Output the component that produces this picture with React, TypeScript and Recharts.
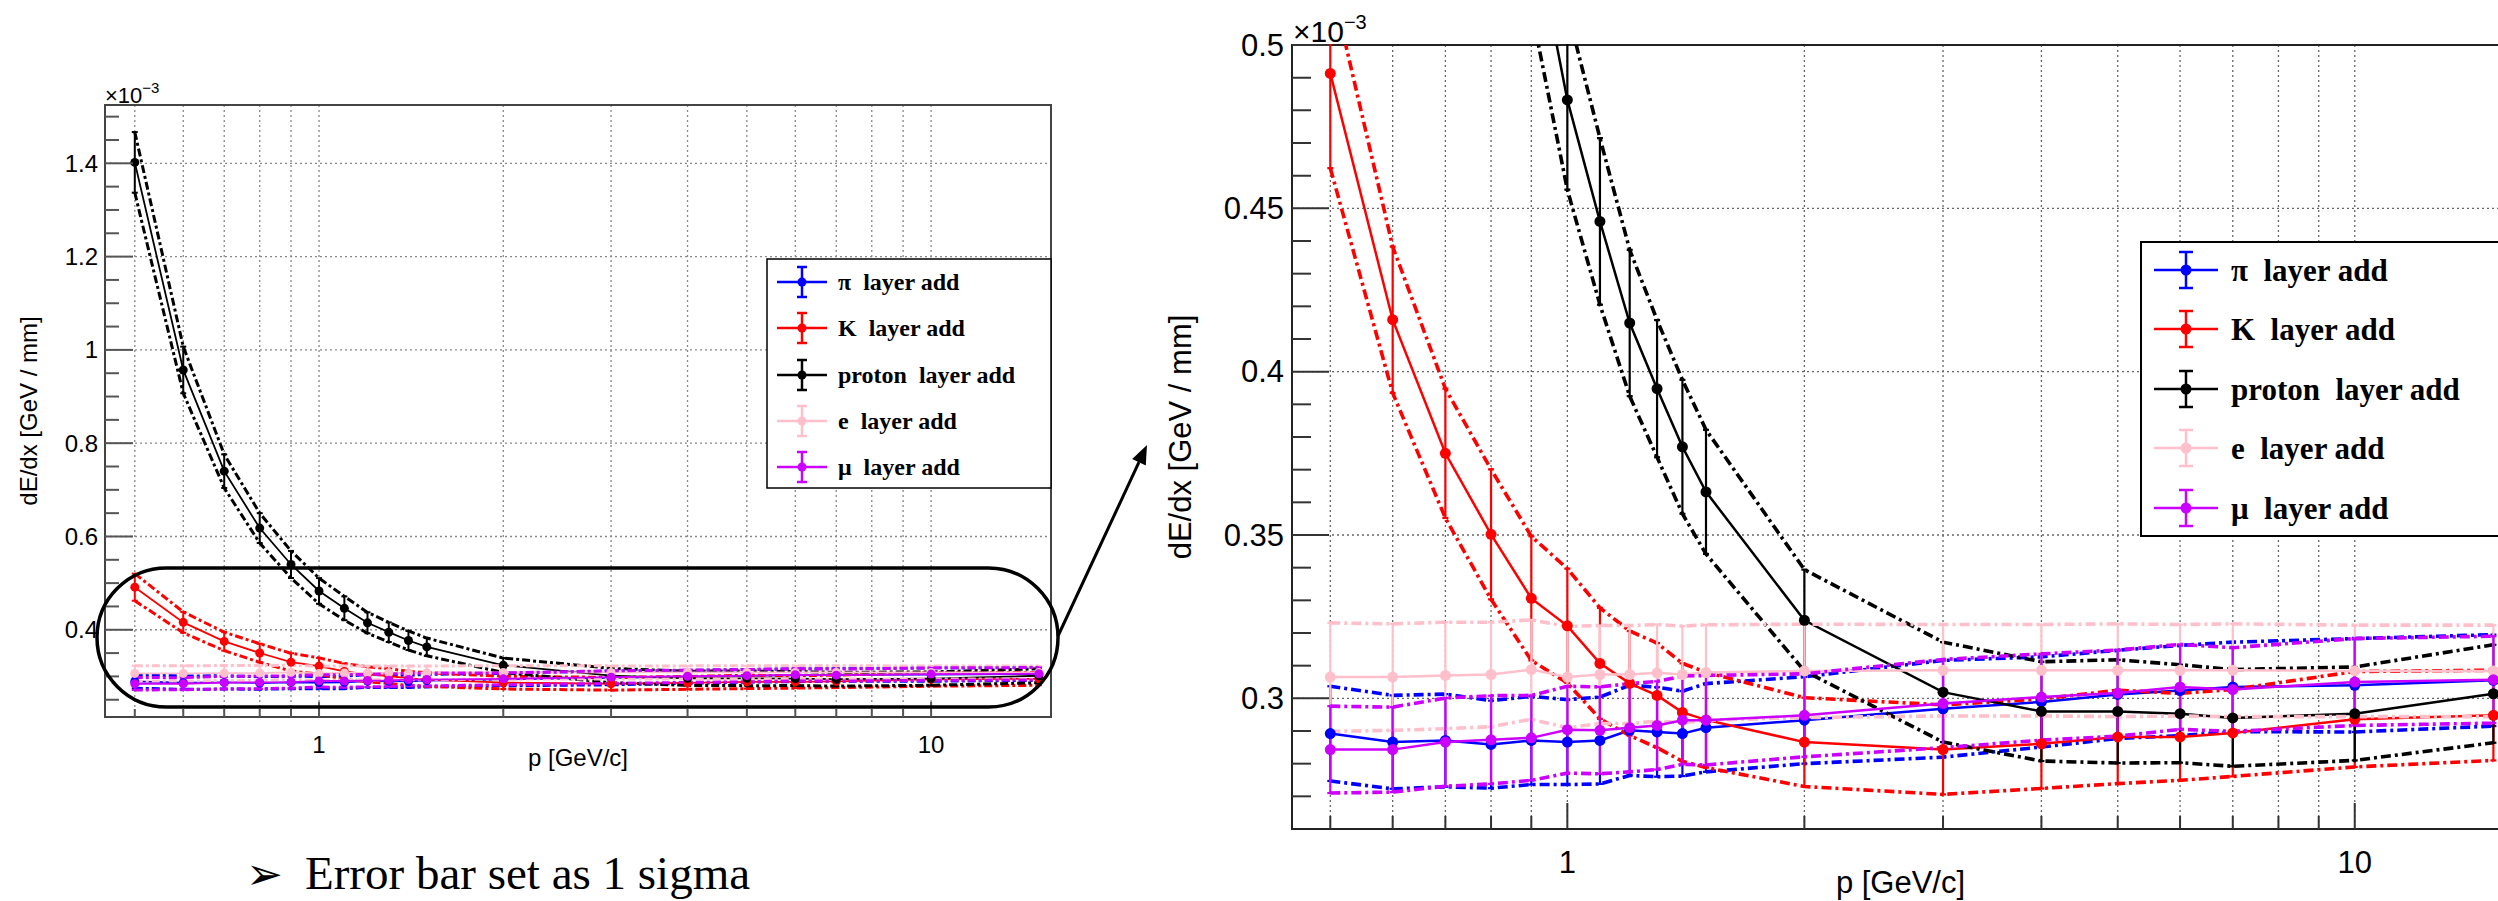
import React from 'react';
import { LineChart, Line, XAxis, YAxis, CartesianGrid, ErrorBar, ReferenceArea, Label } from 'recharts';

// ---------------- data ----------------
const momentum = [0.5, 0.6, 0.7, 0.8, 0.9, 1.0, 1.1, 1.2, 1.3, 1.4, 1.5, 2, 3, 4, 5, 6, 7, 10, 15];

const pionMean = [0.2892, 0.2866, 0.2871, 0.2859, 0.2871, 0.2866, 0.2871, 0.2902, 0.2897, 0.2892, 0.291, 0.2933, 0.2968, 0.2989, 0.3012, 0.3024, 0.3035, 0.304, 0.3055];
const pionSigma = [0.0145, 0.0143, 0.0142, 0.0134, 0.0135, 0.013, 0.0133, 0.0138, 0.0137, 0.013, 0.0135, 0.0133, 0.0148, 0.0138, 0.0135, 0.0138, 0.0137, 0.0143, 0.014];

const kaonMean = [0.4913, 0.4159, 0.375, 0.3502, 0.3306, 0.3222, 0.3107, 0.3046, 0.3009, 0.2957, 0.2934, 0.2866, 0.2843, 0.2861, 0.2882, 0.2882, 0.2894, 0.2936, 0.2948];
const kaonSigma = [0.029, 0.0224, 0.0198, 0.0199, 0.019, 0.0175, 0.017, 0.016, 0.016, 0.015, 0.0146, 0.0136, 0.0137, 0.0137, 0.0143, 0.0133, 0.0133, 0.0146, 0.0138];

const protonMean = [1.402, 0.957, 0.74, 0.618, 0.54, 0.4832, 0.446, 0.4149, 0.3948, 0.377, 0.3632, 0.3239, 0.3019, 0.296, 0.296, 0.2953, 0.294, 0.2953, 0.3014];
const protonSigma = [0.065, 0.05, 0.036, 0.032, 0.029, 0.0275, 0.0255, 0.0224, 0.021, 0.0205, 0.019, 0.0155, 0.0153, 0.0152, 0.0158, 0.015, 0.0148, 0.0143, 0.015];

const electronMean = [0.3065, 0.3065, 0.307, 0.3073, 0.3088, 0.3065, 0.3073, 0.3073, 0.3078, 0.3073, 0.3079, 0.3084, 0.3086, 0.3086, 0.3086, 0.3086, 0.3086, 0.3084, 0.3084];
const electronSigma = [0.0166, 0.0163, 0.0163, 0.016, 0.0152, 0.0155, 0.015, 0.015, 0.0148, 0.0148, 0.0146, 0.0143, 0.014, 0.014, 0.0142, 0.014, 0.0142, 0.014, 0.014];

const muonMean = [0.2843, 0.2843, 0.2866, 0.2873, 0.2879, 0.2904, 0.2902, 0.291, 0.2917, 0.2933, 0.2933, 0.2948, 0.2984, 0.3004, 0.3016, 0.3035, 0.3027, 0.305, 0.3057];
const muonSigma = [0.0133, 0.013, 0.0135, 0.0135, 0.013, 0.0133, 0.0133, 0.0135, 0.0135, 0.0135, 0.0137, 0.0127, 0.0135, 0.0132, 0.0132, 0.013, 0.0128, 0.0133, 0.0133];

const seriesInfo = [
  { key: 'pi', name: 'π  layer add', color: '#0000ff', mean: pionMean, sigma: pionSigma },
  { key: 'K', name: 'K  layer add', color: '#ff0000', mean: kaonMean, sigma: kaonSigma },
  { key: 'proton', name: 'proton  layer add', color: '#000000', mean: protonMean, sigma: protonSigma },
  { key: 'e', name: 'e  layer add', color: '#ffc0cb', mean: electronMean, sigma: electronSigma },
  { key: 'mu', name: 'μ  layer add', color: '#cc00ff', mean: muonMean, sigma: muonSigma },
];

// axis tick values
const xTicks = [0.5, 0.6, 0.7, 0.8, 0.9, 1, 2, 3, 4, 5, 6, 7, 8, 9, 10];
const xLabeled = [1, 10];

const leftYMajor = [0.4, 0.6, 0.8, 1, 1.2, 1.4];
const leftYTicks = [0.25, 0.3, 0.35, 0.4, 0.45, 0.5, 0.55, 0.6, 0.65, 0.7, 0.75, 0.8, 0.85, 0.9, 0.95, 1, 1.05, 1.1, 1.15, 1.2, 1.25, 1.3, 1.35, 1.4, 1.45, 1.5];
const rightYMajor = [0.3, 0.35, 0.4, 0.45, 0.5];
const rightYTicks = [0.27, 0.28, 0.29, 0.3, 0.31, 0.32, 0.33, 0.34, 0.35, 0.36, 0.37, 0.38, 0.39, 0.4, 0.41, 0.42, 0.43, 0.44, 0.45, 0.46, 0.47, 0.48, 0.49, 0.5];

const table = momentum.map((p, i) => {
  const row: Record<string, number> = { p };
  seriesInfo.forEach((s) => {
    row[s.key] = s.mean[i];
    row[s.key + 'Err'] = s.sigma[i];
    row[s.key + 'Hi'] = s.mean[i] + s.sigma[i];
    row[s.key + 'Lo'] = s.mean[i] - s.sigma[i];
  });
  return row;
});

const SANS = '"Liberation Sans", Arial, Helvetica, sans-serif';
const SERIF = '"Liberation Serif", "Times New Roman", serif';

type Cfg = {
  left: number; top: number; width: number; height: number;
  margin: { top: number; right: number; bottom: number; left: number };
  yAxisWidth: number; xAxisHeight: number;
  xDomain: [number, number]; yDomain: [number, number];
  yTicks: number[]; yMajor: number[];
  font: number; expFont: number; expSup: number; expRise: number; expDy: number; expInChart: boolean;
  yMajLen: number; yMinLen: number; xMajLen: number; xMinLen: number;
  yLabelGap: number; xLabelDy: number; xTitleDy: number; yTitleX: number;
  lineW: number; bandW: number; dotR: number; dash: string; errW: number; errCap: number;
  frameColor: string; gridColor: string; tickColor: string;
  clip?: string;
};

const isIn = (arr: number[], v: number) => arr.some((a) => Math.abs(a - v) < 1e-9);

function Exponent({ x, y, cfg }: { x: number; y: number; cfg: Cfg }) {
  return (
    <text x={x} y={y} fontSize={cfg.expFont} fontFamily={SANS} fill="#000">
      ×10
      <tspan dy={-cfg.expRise} fontSize={cfg.expSup}>−3</tspan>
    </text>
  );
}

function DedxPlot({ cfg }: { cfg: Cfg }) {
  const yTick = (props: any) => {
    const { x, y, payload } = props;
    const v = payload.value;
    const major = isIn(cfg.yMajor, v);
    return (
      <g>
        <line x1={x} x2={x + (major ? cfg.yMajLen : cfg.yMinLen)} y1={y} y2={y} stroke={cfg.tickColor} strokeWidth={2} />
        {major ? (
          <text x={x - cfg.yLabelGap} y={y} textAnchor="end" dominantBaseline="central" fontSize={cfg.font} fontFamily={SANS} fill="#000">
            {String(v)}
          </text>
        ) : null}
      </g>
    );
  };
  const xTick = (props: any) => {
    const { x, y, payload } = props;
    const v = payload.value;
    const major = isIn(xLabeled, v);
    return (
      <g>
        <line x1={x} x2={x} y1={y} y2={y - (major ? cfg.xMajLen : cfg.xMinLen)} stroke={cfg.tickColor} strokeWidth={2} />
        {major ? (
          <text x={x} y={y + cfg.xLabelDy} textAnchor="middle" fontSize={cfg.font} fontFamily={SANS} fill="#000">
            {String(v)}
          </text>
        ) : null}
      </g>
    );
  };
  const yTitle = (props: any) => {
    const vb = props.viewBox || {};
    const cx = vb.x + cfg.yTitleX;
    const cy = vb.y + vb.height / 2;
    return (
      <g>
        <text x={cx} y={cy} transform={`rotate(-90, ${cx}, ${cy})`} textAnchor="middle" dominantBaseline="central" fontSize={cfg.font} fontFamily={SANS} fill="#000">
          dE/dx [GeV / mm]
        </text>
        {cfg.expInChart ? <Exponent x={vb.x + vb.width} y={vb.y - cfg.expDy} cfg={cfg} /> : null}
      </g>
    );
  };
  const xTitle = (props: any) => {
    const vb = props.viewBox || {};
    return (
      <text x={vb.x + vb.width / 2} y={vb.y + cfg.xTitleDy} textAnchor="middle" fontSize={cfg.font} fontFamily={SANS} fill="#000">
        p [GeV/c]
      </text>
    );
  };

  const elems: React.ReactElement[] = [];
  seriesInfo.forEach((s) => {
    elems.push(
      <Line key={s.key + 'Hi'} dataKey={s.key + 'Hi'} type="linear" stroke={s.color} strokeWidth={cfg.bandW} strokeDasharray={cfg.dash} dot={false} activeDot={false} isAnimationActive={false} legendType="none" />
    );
    elems.push(
      <Line key={s.key + 'Lo'} dataKey={s.key + 'Lo'} type="linear" stroke={s.color} strokeWidth={cfg.bandW} strokeDasharray={cfg.dash} dot={false} activeDot={false} isAnimationActive={false} legendType="none" />
    );
    elems.push(
      <Line key={s.key} dataKey={s.key} name={s.name} type="linear" stroke={s.color} strokeWidth={cfg.lineW} dot={{ r: cfg.dotR, fill: s.color, stroke: s.color, strokeWidth: 0 }} activeDot={false} isAnimationActive={false}>
        <ErrorBar dataKey={s.key + 'Err'} direction="y" width={cfg.errCap} stroke={s.color} strokeWidth={cfg.errW} isAnimationActive={false} />
      </Line>
    );
  });

  return (
    <div style={{ position: 'absolute', left: cfg.left, top: cfg.top, clipPath: cfg.clip }}>
      <LineChart width={cfg.width} height={cfg.height} data={table} margin={cfg.margin}>
        <CartesianGrid horizontalValues={cfg.yMajor} stroke={cfg.gridColor} strokeDasharray="2 3" strokeWidth={1.3} />
        <XAxis dataKey="p" type="number" scale="log" domain={cfg.xDomain} allowDataOverflow ticks={xTicks} interval={0} tickLine={false} axisLine={false} tickSize={0} tickMargin={0} height={cfg.xAxisHeight} tick={xTick}>
          <Label content={xTitle} />
        </XAxis>
        <YAxis type="number" domain={cfg.yDomain} allowDataOverflow ticks={cfg.yTicks} interval={0} tickLine={false} axisLine={false} tickSize={0} tickMargin={0} width={cfg.yAxisWidth} tick={yTick}>
          <Label content={yTitle} />
        </YAxis>
        <ReferenceArea x1={cfg.xDomain[0]} x2={cfg.xDomain[1]} y1={cfg.yDomain[0]} y2={cfg.yDomain[1]} fill="none" fillOpacity={0} stroke={cfg.frameColor} strokeWidth={2} ifOverflow="visible" />
        {elems}
      </LineChart>
    </div>
  );
}

const leftCfg: Cfg = {
  left: 0, top: 0, width: 1100, height: 800,
  margin: { top: 105, right: 49, bottom: 0, left: 0 },
  yAxisWidth: 105, xAxisHeight: 83,
  xDomain: [0.447, 15.7], yDomain: [0.213, 1.525],
  yTicks: leftYTicks, yMajor: leftYMajor,
  font: 24, expFont: 22, expSup: 15, expRise: 10, expDy: 2, expInChart: true,
  yMajLen: 28, yMinLen: 14, xMajLen: 15, xMinLen: 8,
  yLabelGap: 7, xLabelDy: 36, xTitleDy: 49, yTitleX: 28,
  lineW: 1.8, bandW: 3, dotR: 4.5, dash: '8 3 3 3', errW: 2, errCap: 3,
  frameColor: '#444', gridColor: '#888', tickColor: '#555',
};

// The right plot's frame starts at y = 45 (plot left at 152 px inside the chart); the clip hides
// error bars that run above the frame while the y tick labels on the left stay visible.
const rightCfg: Cfg = {
  left: 1140, top: 0, width: 1380, height: 901,
  margin: { top: 45, right: 11, bottom: 0, left: 0 },
  yAxisWidth: 152, xAxisHeight: 72,
  xDomain: [0.447, 15.7], yDomain: [0.26, 0.5],
  yTicks: rightYTicks, yMajor: rightYMajor,
  font: 31, expFont: 30, expSup: 20, expRise: 13, expDy: 3, expInChart: false,
  yMajLen: 37, yMinLen: 19, xMajLen: 26, xMinLen: 13,
  yLabelGap: 8, xLabelDy: 44, xTitleDy: 64, yTitleX: 40,
  lineW: 2.5, bandW: 3.6, dotR: 5.5, dash: '10 4 3 4', errW: 2.2, errCap: 3,
  frameColor: '#222', gridColor: '#666', tickColor: '#333',
  clip: 'polygon(0 0, 151px 0, 151px 44px, 100% 44px, 100% 100%, 0 100%)',
};

function LegendBox({ x, y, w, h, rows, symX, symHalf, textX, font, dotR, errHalf, capHalf, border }: any) {
  return (
    <g>
      <rect x={x} y={y} width={w} height={h} fill="#fff" stroke="#000" strokeWidth={border} />
      {seriesInfo.map((s, i) => {
        const cy = rows[i];
        return (
          <g key={s.key}>
            <line x1={symX - symHalf} x2={symX + symHalf} y1={cy} y2={cy} stroke={s.color} strokeWidth={2.5} />
            <line x1={symX} x2={symX} y1={cy - errHalf} y2={cy + errHalf} stroke={s.color} strokeWidth={2.5} />
            <line x1={symX - capHalf} x2={symX + capHalf} y1={cy - errHalf} y2={cy - errHalf} stroke={s.color} strokeWidth={2.5} />
            <line x1={symX - capHalf} x2={symX + capHalf} y1={cy + errHalf} y2={cy + errHalf} stroke={s.color} strokeWidth={2.5} />
            <circle cx={symX} cy={cy} r={dotR} fill={s.color} />
            <text x={textX} y={cy} dominantBaseline="central" fontSize={font} fontWeight="bold" fontFamily={SERIF} fill="#000" style={{ whiteSpace: 'pre' }}>
              {s.name}
            </text>
          </g>
        );
      })}
    </g>
  );
}

export default function App() {
  // arrow geometry
  const ax0 = 1058, ay0 = 636, ax1 = 1147, ay1 = 445;
  const dx = ax1 - ax0, dy = ay1 - ay0;
  const len = Math.sqrt(dx * dx + dy * dy);
  const ux = dx / len, uy = dy / len;
  const hl = 19, hw = 7.5;
  const bx = ax1 - hl * ux, by = ay1 - hl * uy;
  const head = `${ax1},${ay1} ${bx - hw * uy},${by + hw * ux} ${bx + hw * uy},${by - hw * ux}`;

  return (
    <div style={{ position: 'relative', width: 2498, height: 901, overflow: 'hidden', background: '#fff' }}>
      <style>{'body{margin:0;overflow:hidden;background:#fff}'}</style>
      <DedxPlot cfg={leftCfg} />
      <DedxPlot cfg={rightCfg} />
      <svg width={2498} height={901} style={{ position: 'absolute', left: 0, top: 0, pointerEvents: 'none' }}>
        <Exponent x={1293} y={42} cfg={rightCfg} />
        <LegendBox x={767} y={259} w={284} h={229} rows={[282, 328, 375, 421, 467]} symX={802} symHalf={25} textX={838} font={24} dotR={4.5} errHalf={15} capHalf={5} border={1.5} />
        <LegendBox x={2141} y={242} w={420} h={294} rows={[270, 329, 389, 448, 508]} symX={2186} symHalf={32} textX={2231} font={31} dotR={5.5} errHalf={18} capHalf={7} border={2} />
        <rect x={97} y={568} width={961} height={139} rx={69.5} ry={69.5} fill="none" stroke="#000" strokeWidth={3.5} />
        <line x1={ax0} y1={ay0} x2={bx} y2={by} stroke="#000" strokeWidth={3} />
        <polygon points={head} fill="#000" />
        <text x={246} y={889} fontSize={44} fontFamily='"DejaVu Sans", sans-serif' fill="#000">➢</text>
        <text x={305} y={889} fontSize={47} fontFamily={SERIF} fill="#000">Error bar set as 1 sigma</text>
      </svg>
    </div>
  );
}
